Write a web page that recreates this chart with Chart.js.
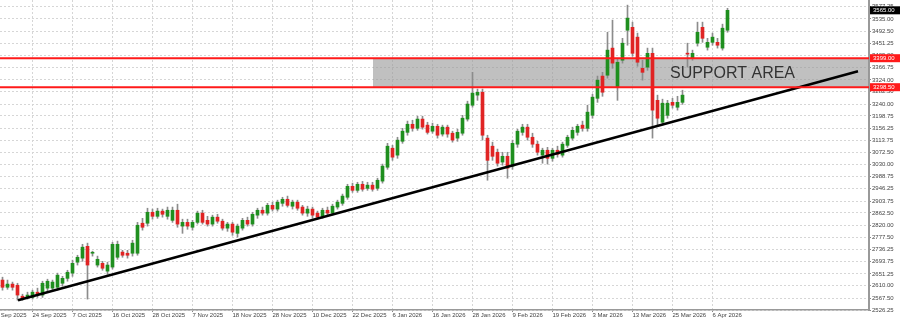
<!DOCTYPE html>
<html>
<head>
<meta charset="utf-8">
<script src="https://cdn.jsdelivr.net/npm/chart.js@4.4.1/dist/chart.umd.min.js"></script>
<style>
  html, body { margin: 0; padding: 0; background: #fff; }
  canvas { display: block; }
</style>
</head>
<body>
<canvas id="chart" width="900" height="318"></canvas>
<script>
// daily candles, index 0 = 16 Sep 2025 ... 145 = 9 Apr 2026
const openV = [2630,2605,2616,2612,2574,2570,2570,2588,2578,2602,2602,2605,2619,2636,2654,2692,2706,2747,2723,2682,
  2688,2661,2675,2709,2727,2723,2723,2723,2827,2827,2865,2851,2869,2851,2837,2872,2817,2830,2813,2830,
  2862,2837,2824,2848,2834,2810,2824,2792,2810,2837,2824,2855,2872,2862,2889,2876,2896,2910,2886,2900,
  2883,2862,2876,2862,2851,2872,2862,2883,2896,2917,2955,2941,2962,2948,2959,2948,2973,3021,3087,3063,
  3111,3142,3170,3156,3188,3167,3146,3163,3136,3160,3139,3122,3139,3188,3236,3271,3281,3122,3094,3073,
  3039,3059,3025,3101,3142,3160,3125,3101,3063,3080,3052,3080,3063,3097,3122,3142,3167,3156,3201,3260,
  3337,3340,3434,3298,3392,3496,3506,3472,3364,3368,3416,3253,3177,3201,3246,3229,3246,3416,3399,3451,
  3506,3437,3454,3454,3434,3496];
const highV = [2640,2630,2623,2619,2581,2588,2595,2602,2626,2633,2630,2654,2643,2664,2699,2716,2754,2758,2730,2713,
  2695,2692,2761,2765,2733,2733,2768,2830,2844,2879,2876,2879,2876,2883,2883,2893,2841,2841,2837,2869,
  2872,2851,2855,2858,2841,2830,2830,2824,2844,2848,2865,2879,2883,2896,2900,2907,2917,2921,2907,2907,
  2889,2886,2883,2869,2879,2883,2893,2907,2928,2962,2966,2969,2972,2969,2969,2983,3032,3104,3097,3125,
  3156,3181,3184,3198,3198,3177,3174,3170,3167,3167,3146,3153,3201,3250,3350,3292,3292,3132,3108,3084,
  3073,3073,3115,3153,3170,3170,3139,3111,3087,3090,3087,3094,3108,3132,3160,3170,3181,3236,3274,3337,
  3350,3489,3531,3399,3468,3583,3524,3486,3392,3434,3434,3271,3257,3253,3260,3267,3288,3451,3427,3524,
  3524,3468,3486,3468,3517,3572];
const lowV = [2595,2598,2595,2560,2560,2564,2564,2570,2570,2591,2595,2595,2609,2626,2643,2682,2695,2564,2713,2675,
  2664,2650,2668,2702,2709,2706,2713,2716,2803,2817,2841,2844,2848,2841,2830,2813,2792,2806,2803,2824,
  2824,2817,2817,2827,2803,2799,2785,2779,2803,2817,2817,2844,2855,2855,2869,2869,2886,2883,2876,2872,
  2855,2851,2844,2841,2844,2855,2855,2876,2889,2910,2934,2934,2938,2941,2938,2941,2966,3014,3045,3052,
  3104,3132,3146,3149,3153,3136,3139,3122,3129,3125,3108,3111,3132,3181,3229,3253,3115,2976,3045,3025,
  3028,2983,3014,3090,3132,3115,3090,3063,3035,3032,3042,3056,3056,3090,3115,3132,3146,3146,3191,3246,
  3267,3330,3364,3253,3382,3444,3406,3371,3323,3357,3122,3167,3167,3191,3226,3219,3239,3368,3392,3441,
  3454,3427,3444,3434,3427,3489];
const closeV = [2605,2616,2605,2578,2567,2578,2588,2581,2619,2626,2623,2647,2636,2657,2688,2709,2744,2682,2724,2702,
  2671,2682,2754,2754,2716,2716,2758,2820,2813,2865,2851,2869,2858,2872,2872,2824,2830,2817,2830,2862,
  2830,2824,2848,2834,2810,2824,2796,2817,2837,2824,2858,2872,2862,2889,2876,2900,2910,2889,2900,2879,
  2862,2876,2855,2848,2872,2862,2886,2900,2921,2955,2941,2962,2945,2959,2945,2976,3025,3094,3056,3115,
  3146,3170,3156,3188,3160,3142,3163,3132,3160,3136,3115,3142,3191,3240,3278,3281,3132,3045,3059,3035,
  3059,3018,3104,3146,3160,3125,3101,3073,3080,3052,3080,3066,3101,3125,3149,3163,3156,3212,3264,3323,
  3281,3427,3382,3385,3451,3538,3416,3385,3350,3416,3219,3191,3243,3243,3236,3246,3271,3413,3416,3489,
  3468,3454,3472,3444,3503,3565];

const xTickIdx = [-2, 6, 14, 22, 30, 38, 46, 54, 62, 70, 78, 86, 94, 102, 110, 118, 126, 134, 142];
const xTickLabels = ["12 Sep 2025", "24 Sep 2025", "7 Oct 2025", "16 Oct 2025", "28 Oct 2025", "7 Nov 2025",
  "18 Nov 2025", "28 Nov 2025", "10 Dec 2025", "22 Dec 2025", "6 Jan 2026", "16 Jan 2026", "28 Jan 2026",
  "9 Feb 2026", "19 Feb 2026", "3 Mar 2026", "13 Mar 2026", "25 Mar 2026", "6 Apr 2026"];
const yTicks = [2526.25, 2567.50, 2610.00, 2651.25, 2693.75, 2736.25, 2777.50, 2820.00, 2862.50, 2903.75,
  2946.25, 2988.75, 3030.00, 3072.50, 3113.75, 3156.25, 3198.75, 3240.00, 3282.50, 3324.00, 3366.75,
  3409.00, 3451.25, 3492.50, 3535.00, 3577.25];

const supportHigh = 3399.0;
const supportLow = 3298.5;
const supportFrom = 74.1;
const supportTextAt = 146;
const supportText = "SUPPORT AREA";
const trendX = [3.1, 171.1];
const trendY = [2560, 3354];

const upCol = "#1f8f1f";
const downCol = "#e02424";
const fontName = '"Liberation Sans", Arial, sans-serif';

const bodies = openV.map((o, i) => ({ x: i, y: [o, closeV[i]] }));
const wicks = openV.map((o, i) => ({ x: i, y: [lowV[i], highV[i]] }));
const bodyCols = openV.map((o, i) => (closeV[i] >= o ? upCol : downCol));
const trend = trendX.map((v, i) => ({ x: v, y: trendY[i] }));

// support box, red levels, axis price tags
const overlay = {
  id: "overlay",
  beforeDatasetsDraw(chart) {
    const { ctx, chartArea: a, scales: { x, y } } = chart;
    const x0 = x.getPixelForValue(supportFrom);
    const yt = y.getPixelForValue(supportHigh);
    const yb = y.getPixelForValue(supportLow);
    ctx.save();
    ctx.fillStyle = "rgba(150,150,150,0.6)";
    ctx.fillRect(x0, yt, a.right - x0, yb - yt);
    ctx.restore();
  },
  afterDatasetsDraw(chart) {
    const { ctx, chartArea: a, scales: { x, y } } = chart;
    const yt = y.getPixelForValue(supportHigh);
    const yb = y.getPixelForValue(supportLow);
    ctx.save();
    ctx.font = "16px " + fontName;
    ctx.fillStyle = "#333";
    ctx.textAlign = "center";
    ctx.textBaseline = "middle";
    ctx.fillText(supportText, x.getPixelForValue(supportTextAt), (yt + yb) / 2 + 1);
    ctx.strokeStyle = "#ff1a1a";
    ctx.lineWidth = 2;
    [yt, yb].forEach(function (py) {
      ctx.beginPath();
      ctx.moveTo(a.left, py);
      ctx.lineTo(a.right, py);
      ctx.stroke();
    });
    ctx.restore();
  },
  afterDraw(chart) {
    const { ctx, chartArea: a, scales: { y } } = chart;
    function tag(val, bg) {
      const py = y.getPixelForValue(val);
      ctx.fillStyle = bg;
      ctx.fillRect(a.right + 1, py - 4, 30, 8);
      ctx.fillStyle = "#fff";
      ctx.font = "6px " + fontName;
      ctx.textAlign = "left";
      ctx.textBaseline = "middle";
      ctx.fillText(val.toFixed(2), a.right + 4, py);
    }
    ctx.save();
    tag(supportHigh, "#ff1a1a");
    tag(supportLow, "#ff1a1a");
    tag(closeV[closeV.length - 1], "#000");
    ctx.restore();
  },
};

new Chart(document.getElementById("chart"), {
  type: "bar",
  data: {
    datasets: [
      {
        type: "line",
        data: trend,
        borderColor: "#000",
        borderWidth: 2.5,
        pointRadius: 0,
        order: 0,
      },
      {
        data: bodies,
        backgroundColor: bodyCols,
        barThickness: 3,
        minBarLength: 1,
        grouped: false,
        order: 1,
      },
      {
        data: wicks,
        backgroundColor: "#8c8c8c",
        barThickness: 1,
        grouped: false,
        order: 2,
      },
    ],
  },
  options: {
    responsive: false,
    animation: false,
    layout: { padding: 0 },
    plugins: { legend: { display: false }, tooltip: { enabled: false } },
    scales: {
      x: {
        type: "linear",
        min: -0.5,
        max: 173.3,
        offset: false,
        afterBuildTicks: (s) => {
          s.ticks = xTickIdx.map((v) => ({ value: v }));
        },
        afterFit: (s) => {
          s.height = 8;
          s.paddingLeft = 0;
          s.paddingRight = 0;
        },
        ticks: {
          autoSkip: false,
          maxRotation: 0,
          align: "start",
          padding: 0,
          color: "#444",
          font: { size: 6, family: fontName },
          callback: (v) => xTickLabels[xTickIdx.indexOf(v)],
        },
        grid: {
          offset: false,
          color: "#d6d6d6",
          tickColor: "#888",
          tickLength: 2,
        },
        border: { color: "#999", width: 1.5, dash: [2, 2] },
      },
      y: {
        position: "right",
        min: 2526.25,
        max: 3600.75,
        afterBuildTicks: (s) => {
          s.ticks = yTicks.map((v) => ({ value: v }));
        },
        afterFit: (s) => {
          s.width = 31;
          s.paddingTop = 0;
          s.paddingBottom = 0;
        },
        ticks: {
          padding: 1,
          color: "#444",
          font: { size: 6, family: fontName },
          callback: (v) => v.toFixed(2),
        },
        grid: {
          color: "#d6d6d6",
          tickColor: "#888",
          tickLength: 2,
        },
        border: { color: "#999", width: 2, dash: [2, 2] },
      },
    },
  },
  plugins: [overlay],
});
</script>
</body>
</html>
